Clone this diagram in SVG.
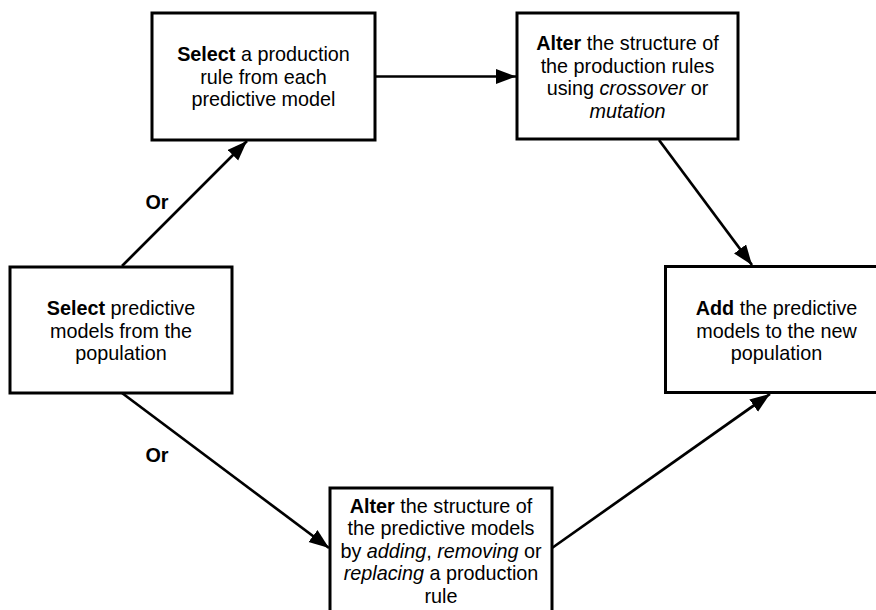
<svg xmlns="http://www.w3.org/2000/svg" width="876" height="610" viewBox="0 0 876 610">
  <style>
    .box { fill: #ffffff; stroke: #000000; stroke-width: 3; }
    .lbl { font-family: "Liberation Sans", Arial, sans-serif; font-size: 19.8px; fill: #000000; text-anchor: middle; }
    .or { font-family: "Liberation Sans", Arial, sans-serif; font-size: 19.8px; font-weight: bold; fill: #000000; text-anchor: middle; }
    .edge { stroke: #000000; stroke-width: 2.7; fill: none; marker-end: url(#head); }
    .b { font-weight: bold; }
    .i { font-style: italic; }
  </style>
  <defs>
    <marker id="head" markerUnits="userSpaceOnUse" markerWidth="22" markerHeight="16" refX="20" refY="7.5" orient="auto">
      <path d="M0,0 L20,7.5 L0,15 Z" fill="#000000"/>
    </marker>
  </defs>

  <rect width="876" height="610" fill="#ffffff"/>

  <!-- connectors -->
  <g id="connectors">
    <line class="edge" x1="375" y1="76.5" x2="516" y2="76.5"/>
    <line class="edge" x1="659" y1="140" x2="752" y2="265"/>
    <line class="edge" x1="122" y1="266" x2="247" y2="141"/>
    <line class="edge" x1="122" y1="393" x2="329" y2="548"/>
    <line class="edge" x1="552" y1="548" x2="770" y2="394"/>
    <text class="or" x="157" y="209">Or</text>
    <text class="or" x="157" y="462">Or</text>
  </g>

  <!-- select a production rule -->
  <g id="select-rule">
    <rect class="box" x="152" y="13" width="223" height="127"/>
    <text class="lbl" x="263.5" y="61"><tspan class="b">Select</tspan> a production</text>
    <text class="lbl" x="263.5" y="83.5">rule from each</text>
    <text class="lbl" x="263.5" y="106">predictive model</text>
  </g>

  <!-- alter rules via crossover / mutation -->
  <g id="alter-rules">
    <rect class="box" x="517" y="13" width="221" height="126"/>
    <text class="lbl" x="627.5" y="50"><tspan class="b">Alter</tspan> the structure of</text>
    <text class="lbl" x="627.5" y="72.5">the production rules</text>
    <text class="lbl" x="627.5" y="95">using <tspan class="i">crossover</tspan> or</text>
    <text class="lbl" x="627.5" y="117.5" font-style="italic">mutation</text>
  </g>

  <!-- select models from the population -->
  <g id="select-models">
    <rect class="box" x="10" y="267" width="222" height="126"/>
    <text class="lbl" x="121" y="315"><tspan class="b">Select</tspan> predictive</text>
    <text class="lbl" x="121" y="337.5">models from the</text>
    <text class="lbl" x="121" y="360">population</text>
  </g>

  <!-- add models to the new population -->
  <g id="add-models">
    <rect class="box" x="665.5" y="266.5" width="222" height="126"/>
    <text class="lbl" x="776.5" y="315"><tspan class="b">Add</tspan> the predictive</text>
    <text class="lbl" x="776.5" y="337.5">models to the new</text>
    <text class="lbl" x="776.5" y="360">population</text>
  </g>

  <!-- alter model structure -->
  <g id="alter-models">
    <rect class="box" x="330" y="488" width="222" height="135"/>
    <text class="lbl" x="441" y="512.5"><tspan class="b">Alter</tspan> the structure of</text>
    <text class="lbl" x="441" y="535">the predictive models</text>
    <text class="lbl" x="441" y="557.5">by <tspan class="i">adding</tspan>, <tspan class="i">removing</tspan> or</text>
    <text class="lbl" x="441" y="580"><tspan class="i">replacing</tspan> a production</text>
    <text class="lbl" x="441" y="602.5">rule</text>
  </g>
</svg>
